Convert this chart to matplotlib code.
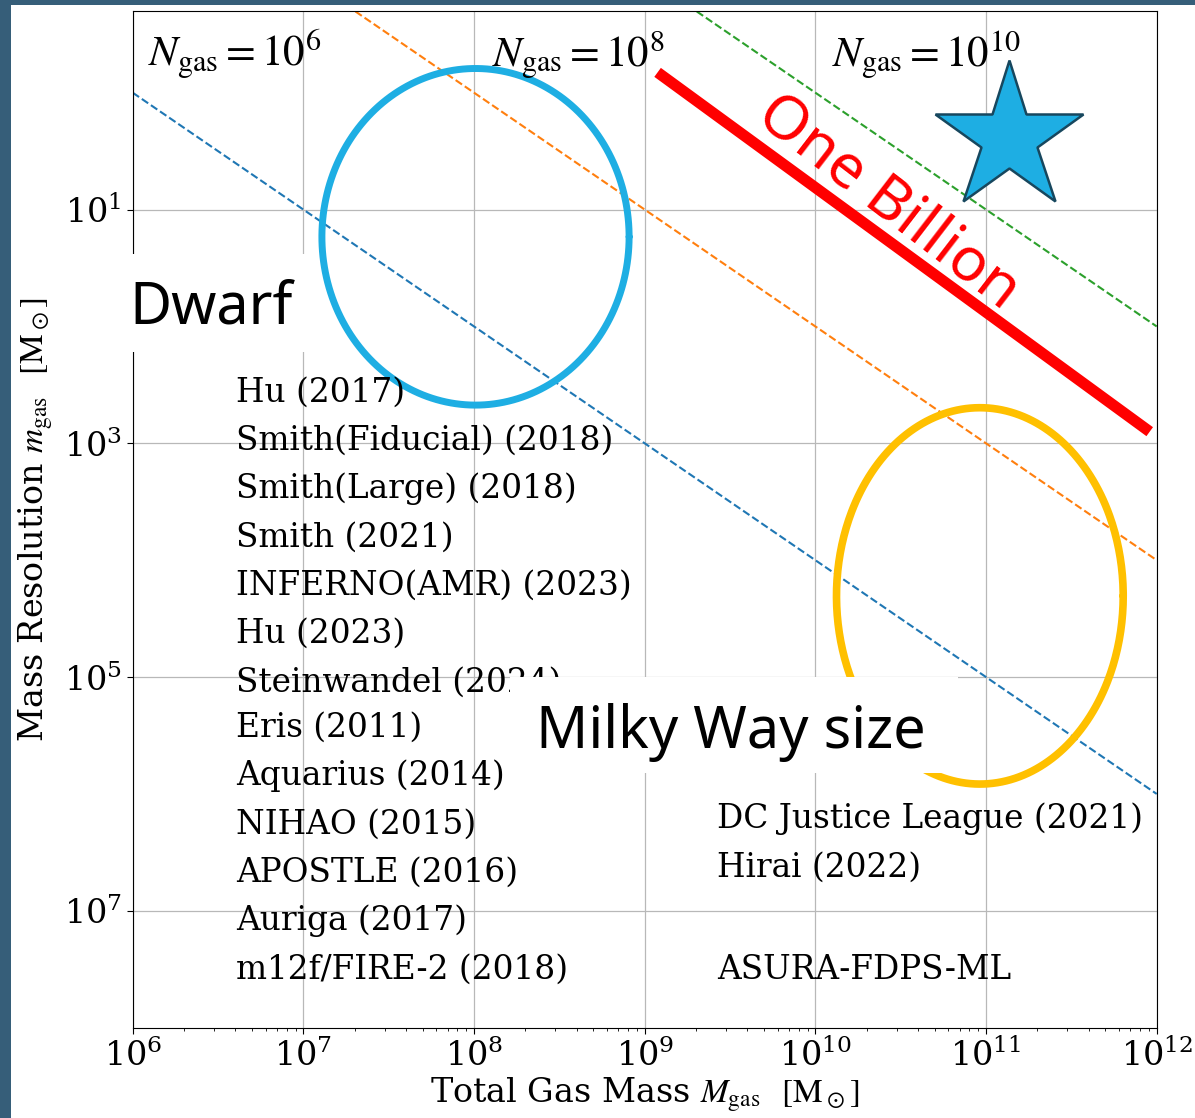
import numpy as np
import matplotlib
matplotlib.use("Agg")
import matplotlib.pyplot as plt
from matplotlib.patches import Rectangle
from matplotlib.ticker import FixedLocator, NullLocator

plt.rcParams['font.family'] = 'serif'
plt.rcParams['font.serif'] = ['DejaVu Serif']
plt.rcParams['mathtext.fontset'] = 'stix'

# ---- data ----
n_gas_values = [1e6, 1e8, 1e10]
n_gas_colors = ['tab:blue', 'tab:orange', 'tab:green']
n_gas_labels = [r"$N_{\rm gas} = 10^{6}$", r"$N_{\rm gas} = 10^{8}$", r"$N_{\rm gas} = 10^{10}$"]
mass_range = [1e6, 1e12]

billion_mass = [1.19e9, 9.1e11]
billion_res = [0.67, 795.0]

dwarf_center = [1.02e8, 17.1]      # (M_gas, m_gas)
dwarf_half_dex = [0.90, 1.44]      # half width / half height in dex
mw_center = [9.2e10, 2.02e4]
mw_half_dex = [0.84, 1.61]

star_mass = 1.36e11
star_res = 2.45

y_ticks = [1e1, 1e3, 1e5, 1e7]

dwarf_sims = ["Hu (2017)", "Smith(Fiducial) (2018)", "Smith(Large) (2018)",
              "Smith (2021)", "INFERNO(AMR) (2023)", "Hu (2023)",
              "Steinwandel (2024)"]
mw_sims = ["Eris (2011)", "Aquarius (2014)", "NIHAO (2015)",
           "APOSTLE (2016)", "Auriga (2017)", "m12f/FIRE-2 (2018)"]
our_sims = ["DC Justice League (2021)", "Hirai (2022)", "ASURA-FDPS-ML"]

# ---- figure ----
W, H = 1195, 1118
fig = plt.figure(figsize=(W / 100, H / 100), dpi=100)
fig.patch.set_facecolor('white')
ax = fig.add_axes([132.7 / W, 1 - 1027.7 / H, 1024 / W, 1016.7 / H])


def axfrac(px, py):
    # pixel position in the picture -> axes fraction
    return (px - 132.7) / 1024, (1027.7 - py) / 1016.7


ax.set_xscale('log')
ax.set_yscale('log')
ax.set_xlim(mass_range)
ax.set_ylim(1e8, 0.2)
ax.yaxis.set_major_locator(FixedLocator(y_ticks))
ax.yaxis.set_minor_locator(NullLocator())
ax.tick_params(labelsize=24, length=4.5)
ax.tick_params(which='minor', length=2.5)
ax.set_axisbelow(True)
ax.grid(True, which='major', color='#b8b8b8', lw=0.9)

for n, c in zip(n_gas_values, n_gas_colors):
    ax.plot(mass_range, [m / n for m in mass_range], '--', color=c, lw=1.5)

ax.plot(billion_mass, billion_res, color='red', lw=8, solid_capstyle='butt')

t = np.linspace(0, 2 * np.pi, 400)
for cen, half, col, lw in [(dwarf_center, dwarf_half_dex, '#1EAEE3', 5.0),
                           (mw_center, mw_half_dex, '#FFC000', 5.5)]:
    ex = 10 ** (np.log10(cen[0]) + half[0] * np.cos(t))
    ey = 10 ** (np.log10(cen[1]) + half[1] * np.sin(t))
    ax.plot(ex, ey, color=col, lw=lw, solid_capstyle='round',
            solid_joinstyle='round')

ax.plot([star_mass], [star_res], marker='*', ms=112, mfc='#1EAEE3',
        mec='#17475e', mew=1.8, ls='none')

for lab, px in zip(n_gas_labels, [148, 492, 832]):
    ax.text(*axfrac(px, 67), lab, transform=ax.transAxes, fontsize=31,
            va='baseline', ha='left')

for i, s in enumerate(dwarf_sims):
    ax.text(*axfrac(236, 401.7 + 48.3 * i), s, transform=ax.transAxes,
            fontsize=23.6, va='baseline')
for i, s in enumerate(mw_sims):
    ax.text(*axfrac(236, 737 + 48.3 * i), s, transform=ax.transAxes,
            fontsize=23.6, va='baseline')
for s, py in zip(our_sims, [828, 876.3, 979]):
    ax.text(*axfrac(717, py), s, transform=ax.transAxes,
            fontsize=23.6, va='baseline')

ax.text(*axfrac(888, 203), "One Billion", transform=ax.transAxes,
        family='Noto Sans', fontsize=44, color='red', rotation=-37.5,
        rotation_mode='anchor', ha='center', va='center')

ax.set_xlabel(r"Total Gas Mass $M_{\rm gas}$  $[\mathrm{M}_\odot]$", fontsize=24,
              labelpad=2)
ax.set_ylabel(r"Mass Resolution $m_{\rm gas}$  $[\mathrm{M}_\odot]$", fontsize=24,
              labelpad=6)

# white cover boxes with the big labels, as on the slide
for x0, y0, x1, y1 in [(55, 254, 318, 352), (510, 677, 958, 773)]:
    fig.add_artist(Rectangle((x0 / W, 1 - y1 / H), (x1 - x0) / W, (y1 - y0) / H,
                             transform=fig.transFigure, facecolor='white',
                             edgecolor='none', zorder=5))
fig.text(129 / W, 1 - 323 / H, "Dwarf", family='Noto Sans', fontsize=41.5,
         va='baseline', zorder=6)
fig.text(536 / W, 1 - 748 / H, "Milky Way size", family='Noto Sans', fontsize=41.5,
         va='baseline', zorder=6)

# slide background edges
fig.add_artist(Rectangle((0, 0), 11 / W, 1, transform=fig.transFigure,
                         facecolor='#365e79', edgecolor='none', zorder=7))
fig.add_artist(Rectangle((0, 1 - 4.5 / H), 1, 4.5 / H, transform=fig.transFigure,
                         facecolor='#365e79', edgecolor='none', zorder=7))

fig.savefig('out.png', dpi=100, facecolor='white')
